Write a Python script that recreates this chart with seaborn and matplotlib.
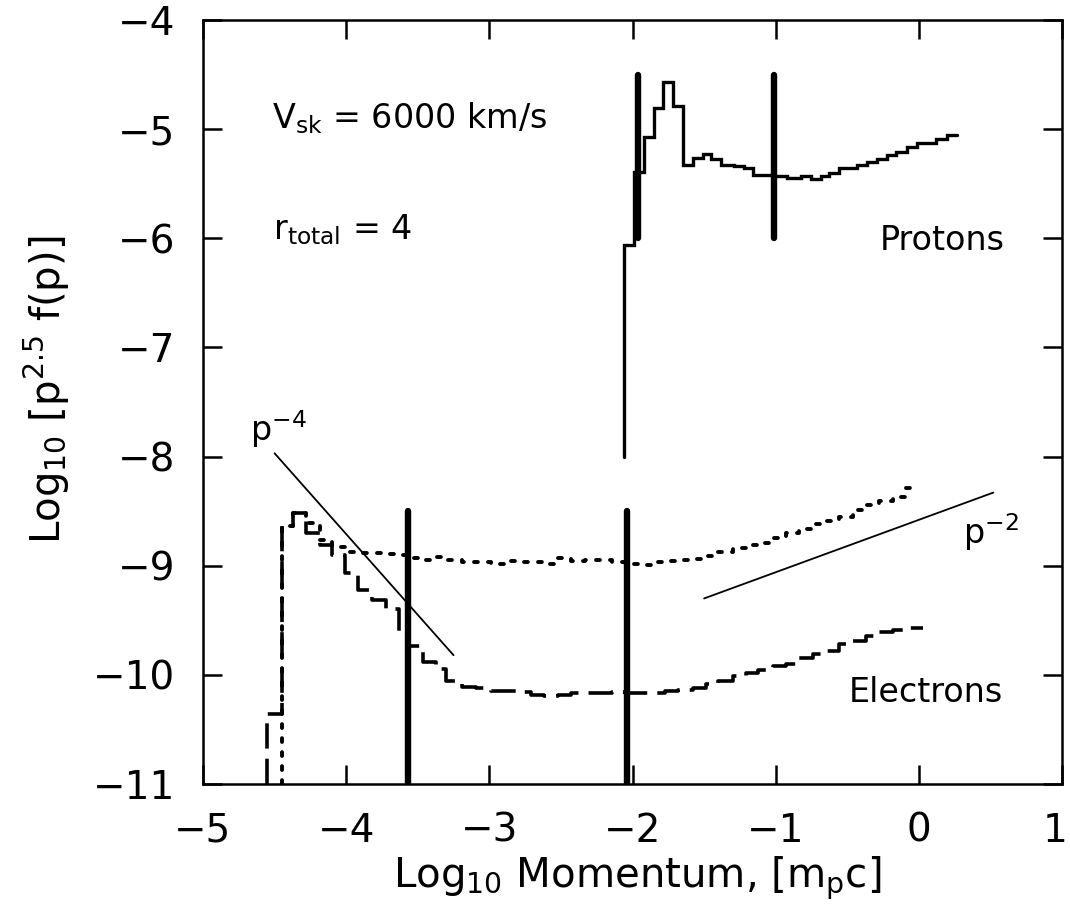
import numpy as np
import matplotlib
matplotlib.use("Agg")
import matplotlib.pyplot as plt
import matplotlib.transforms as mtransforms
import seaborn as sns

# ---- proton spectrum: step bins in log10 momentum, value = log10[p^2.5 f(p)]
proton_edges = [-2.06, -1.99, -1.92, -1.85, -1.785, -1.715, -1.645, -1.58, -1.51,
                -1.455, -1.385, -1.29, -1.22, -1.16, -1.06, -1.01, -0.92, -0.825,
                -0.755, -0.685, -0.625, -0.555, -0.43, -0.36, -0.29, -0.22, -0.16,
                -0.08, -0.01, 0.12, 0.20, 0.27]
proton_vals = [-6.06, -5.39, -5.07, -4.81, -4.565, -4.79, -5.33, -5.26, -5.23,
               -5.27, -5.33, -5.34, -5.36, -5.42, -5.42, -5.43, -5.45, -5.43,
               -5.46, -5.43, -5.40, -5.36, -5.33, -5.30, -5.27, -5.24, -5.21,
               -5.16, -5.13, -5.09, -5.05]
proton_start = -8.0

# ---- electron spectra share one momentum grid (after the injection jump)
electron_grid = [-4.45, -4.37, -4.28, -4.18, -4.10, -4.01, -3.92, -3.82, -3.72,
                 -3.63, -3.56, -3.46, -3.37, -3.30, -3.19, -3.09, -2.99, -2.90,
                 -2.80, -2.71, -2.62, -2.52, -2.43, -2.33, -2.24, -2.14, -2.05,
                 -1.96, -1.86, -1.77, -1.68, -1.58, -1.49, -1.40, -1.30, -1.21,
                 -1.12, -1.02, -0.93, -0.84, -0.74, -0.65, -0.56, -0.46, -0.37,
                 -0.28, -0.18, -0.09]

# upper electron curve (dotted)
elec_dot_vals = [-8.64, -8.52, -8.61, -8.76, -8.83, -8.87, -8.88, -8.88, -8.89,
                 -8.90, -8.93, -8.95, -8.92, -8.95, -8.97, -8.97, -8.98, -8.96,
                 -8.97, -8.97, -8.98, -8.93, -8.96, -8.95, -8.95, -8.97, -8.98,
                 -8.99, -8.97, -8.96, -8.95, -8.94, -8.91, -8.87, -8.84, -8.81,
                 -8.79, -8.75, -8.70, -8.66, -8.62, -8.59, -8.55, -8.49, -8.44,
                 -8.41, -8.37, -8.29]
elec_dot_end = 0.0

# lower electron curve (dashed), with its own low-momentum step
elec_dash_pre_edge = -4.55
elec_dash_pre_val = -10.36
elec_dash_vals = [-8.64, -8.52, -8.70, -8.81, -8.90, -9.07, -9.22, -9.31, -9.40,
                  -9.63, -9.74, -9.88, -9.95, -10.06, -10.11, -10.12, -10.15, -10.15,
                  -10.16, -10.18, -10.19, -10.18, -10.17, -10.17, -10.17, -10.16, -10.17,
                  -10.17, -10.17, -10.15, -10.14, -10.12, -10.08, -10.06, -10.01, -9.98,
                  -9.96, -9.92, -9.90, -9.85, -9.81, -9.78, -9.72, -9.69, -9.64,
                  -9.61, -9.59, -9.57]
elec_dash_end = 0.03
electron_start = -11.0

# power-law guide lines
p4_x = [-4.50, -3.25]
p4_y = [-7.97, -9.82]
p2_x = [-1.50, 0.52]
p2_y = [-9.30, -8.33]

# momentum markers (heavy vertical bars)
proton_marks_x = [-1.965, -1.015]
proton_marks_y = [-6.0, -4.5]
electron_marks_x = [-3.565, -2.035]
electron_marks_y = [-11.0, -8.5]

x_ticks = [-5, -4, -3, -2, -1, 0, 1]
y_ticks = [-11, -10, -9, -8, -7, -6, -5, -4]


def step_vertices(edges, vals, start):
    """Vertices of a histogram-style step curve that rises from `start`."""
    xs, ys = [edges[0]], [start]
    for i, v in enumerate(vals):
        xs += [edges[i], edges[i + 1]]
        ys += [v, v]
    return np.array(xs), np.array(ys)


sns.set_theme(style="ticks")
plt.rcParams["font.family"] = ["DejaVu Sans"]
plt.rcParams["text.color"] = "black"
plt.rcParams["axes.labelcolor"] = "black"
plt.rcParams["xtick.color"] = "black"
plt.rcParams["ytick.color"] = "black"
plt.rcParams["mathtext.fontset"] = "dejavusans"

fig = plt.figure(figsize=(10.7, 9.16), dpi=100)
ax = fig.add_axes([203 / 1070, 1 - 784 / 916, 859 / 1070, 764 / 916])

# protons
px, py = step_vertices(proton_edges, proton_vals, proton_start)
sns.lineplot(x=px, y=py, sort=False, estimator=None, ax=ax, color="black",
             lw=2.4, solid_joinstyle="miter")

# electrons, dotted
dot_edges = electron_grid + [elec_dot_end]
ex, ey = step_vertices(dot_edges, elec_dot_vals, electron_start)
sns.lineplot(x=ex, y=ey, sort=False, estimator=None, ax=ax, color="black", lw=2.8)
dot_line = ax.lines[-1]
dot_line.set_dashes((1.0, 2.6))
dot_line.set_dash_capstyle("round")

# electrons, dashed
dash_edges = [elec_dash_pre_edge] + electron_grid + [elec_dash_end]
dx, dy = step_vertices(dash_edges, [elec_dash_pre_val] + elec_dash_vals, electron_start)
sns.lineplot(x=dx, y=dy, sort=False, estimator=None, ax=ax, color="black", lw=2.6)
dash_line = ax.lines[-1]
dash_line.set_dashes((7.0, 2.8))

# power-law guides
sns.lineplot(x=p4_x, y=p4_y, sort=False, estimator=None, ax=ax, color="black", lw=1.3)
sns.lineplot(x=p2_x, y=p2_y, sort=False, estimator=None, ax=ax, color="black", lw=1.3)

# marker bars
ax.vlines(proton_marks_x, proton_marks_y[0], proton_marks_y[1], color="black",
          lw=4.6, capstyle="round")
ax.vlines(electron_marks_x, electron_marks_y[0], electron_marks_y[1], color="black",
          lw=4.6, capstyle="round")

# annotations
fs_note = 24
ax.text(-4.52, -4.99, r"V$_{\rm sk}$ = 6000 km/s", fontsize=fs_note, ha="left", va="baseline")
ax.text(-4.51, -6.01, r"r$_{\rm total}$ = 4", fontsize=fs_note, ha="left", va="baseline")
ax.text(-0.27, -6.11, "Protons", fontsize=fs_note, ha="left", va="baseline")
ax.text(-0.49, -10.25, "Electrons", fontsize=fs_note, ha="left", va="baseline")
ax.text(-4.67, -7.86, r"p$^{-4}$", fontsize=fs_note, ha="left", va="baseline")
ax.text(0.31, -8.80, r"p$^{-2}$", fontsize=fs_note, ha="left", va="baseline")

ax.set_xlim(-5, 1)
ax.set_ylim(-11, -4)
ax.set_xticks(x_ticks)
ax.set_yticks(y_ticks)
ax.tick_params(which="major", direction="in", length=14, width=1.8,
               top=True, right=True, labelsize=28, color="black", labelcolor="black")
ax.tick_params(axis="x", pad=20)
ax.tick_params(axis="y", pad=20)
ax.minorticks_off()
for s in ax.spines.values():
    s.set_linewidth(1.8)
    s.set_color("black")
    s.set_visible(True)

# keep the right-most x tick label inside the figure edge
last_label = ax.get_xticklabels()[-1]
last_label.set_transform(last_label.get_transform()
                         + mtransforms.ScaledTranslation(-7 / 100, 0, fig.dpi_scale_trans))

ax.set_xlabel(r"Log$_{10}$ Momentum, [m$_{\rm p}$c]", fontsize=29, color="black")
ax.set_ylabel(r"Log$_{10}$ [p$^{2.5}$ f(p)]", fontsize=29, color="black")
ax.xaxis.set_label_coords(0.506, -0.093)
ax.yaxis.set_label_coords(-0.1525, 0.516)

fig.savefig("out.png", dpi=100, facecolor="white")
